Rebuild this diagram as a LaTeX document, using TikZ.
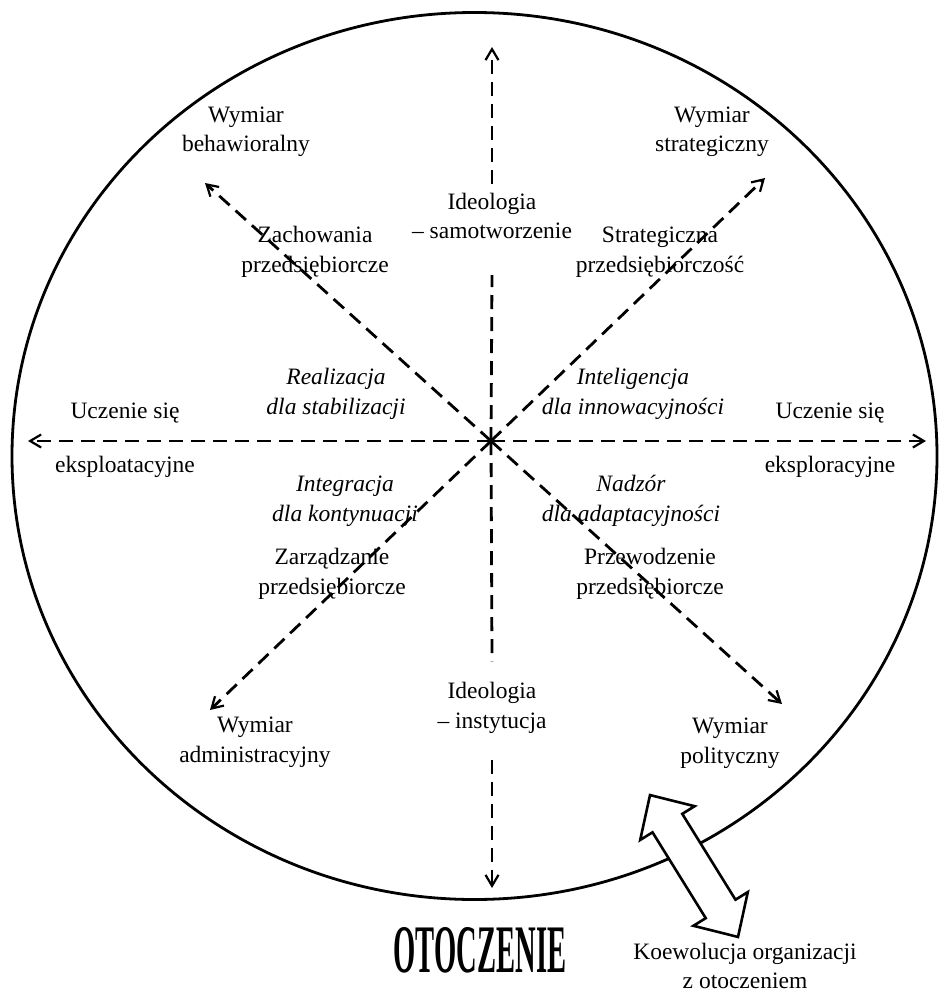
\documentclass[tikz,border=0pt]{standalone}
\usepackage{fontspec}
\setmainfont{Liberation Serif}
\newfontfamily\otofont{Liberation Serif}[FakeStretch=0.42]
\usetikzlibrary{arrows.meta,positioning}

\tikzset{
  axisline/.style={line width=2.8pt, dash pattern=on 14pt off 8pt},
  tipped/.style={-{Straight Barb[length=11pt,width=13pt,line width=2.2pt]}},
  lbl/.style={align=center, inner sep=0pt, font=\fontsize{23.5}{29.5}\selectfont},
  itlbl/.style={lbl, font=\fontsize{23.5}{29.5}\selectfont\itshape},
}

\begin{document}
\begin{tikzpicture}[x=1pt, y=-1pt, node distance=54pt]
  \useasboundingbox (0,0) rectangle (939,998);
  % otoczenie
  \draw[line width=2.8pt] (474.5,456) ellipse [x radius=462.5pt, y radius=443.5pt];

  \coordinate (ctr) at (491,441);
  \coordinate (tipN) at (492,47);
  \coordinate (tipS) at (492,888);
  \coordinate (tipW) at (28,441);
  \coordinate (tipE) at (926,441);
  \coordinate (tipNW) at (205,183);
  \coordinate (tipNE) at (765,178);
  \coordinate (tipSW) at (210,710);
  \coordinate (tipSE) at (782,704);

  % wymiary
  \node[lbl] (wBeh) at (246,132) {Wymiar\\behawioralny};
  \node[lbl] (wStr) at (712,132) {Wymiar\\strategiczny};
  \node[lbl] (wAdm) at (255,742) {Wymiar\\administracyjny};
  \node[lbl] (wPol) at (730,743) {Wymiar\\polityczny};

  \node[lbl] (zach) at (315,252) {Zachowania\\przedsiębiorcze};
  \node[lbl] (strat) at (660,252) {Strategiczna\\przedsiębiorczość};
  \node[lbl] (zarz) at (332,574) {Zarządzanie\\przedsiębiorcze};
  \node[lbl] (przew) at (650,574) {Przewodzenie\\przedsiębiorcze};

  \node[itlbl] (real) at (336,394) {Realizacja\\dla stabilizacji};
  \node[itlbl] (intel) at (633,394) {Inteligencja\\dla innowacyjności};
  \node[itlbl] (integ) at (345,501) {Integracja\\dla kontynuacji};
  \node[itlbl] (nadz) at (631,501) {Nadzór\\dla adaptacyjności};

  \node[lbl] (ideoN) at (492,216) {Ideologia\\-- samotworzenie};
  \node[lbl] (ideoS) at (492,708) {Ideologia\\-- instytucja};

  \node[lbl] (uczW) at (125,413) {Uczenie się};
  \node[lbl] (eksW) [below of=uczW] {eksploatacyjne};
  \node[lbl] (uczE) at (830,413) {Uczenie się};
  \node[lbl] (eksE) [below of=uczE] {eksploracyjne};

  % osie
  \draw[axisline] (ctr) -- ([yshift=-36pt]ideoN.south);
  \draw[axisline,tipped] ([yshift=9pt]ideoN.north) -- (tipN);
  \draw[axisline] (ctr) -- ([yshift=21pt]ideoS.north);
  \draw[axisline,tipped] ([yshift=-26pt]ideoS.south) -- (tipS);
  \draw[axisline,tipped] (ctr) -- (tipW);
  \draw[axisline,tipped] (ctr) -- (tipE);
  \draw[axisline,tipped] (ctr) -- (tipNW);
  \draw[axisline,tipped] (ctr) -- (tipNE);
  \draw[axisline,tipped] (ctr) -- (tipSW);
  \draw[axisline,tipped] (ctr) -- (tipSE);

  % koewolucja
  \begin{scope}[shift={(694,866)}, rotate=-58.2]
    \draw[line width=2.6pt, fill=white] (-83.5,0) -- (-50.5,32) -- (-50.5,17.5)
      -- (50.5,17.5) -- (50.5,32) -- (83.5,0) -- (50.5,-32) -- (50.5,-17.5)
      -- (-50.5,-17.5) -- (-50.5,-32) -- cycle;
  \end{scope}

  \node[inner sep=0pt, font=\otofont\bfseries\fontsize{68}{68}\selectfont] (oto) at (480,950) {OTOCZENIE};
  \node[lbl] (koew) at (745,966) {Koewolucja organizacji\\z otoczeniem};
\end{tikzpicture}
\end{document}
